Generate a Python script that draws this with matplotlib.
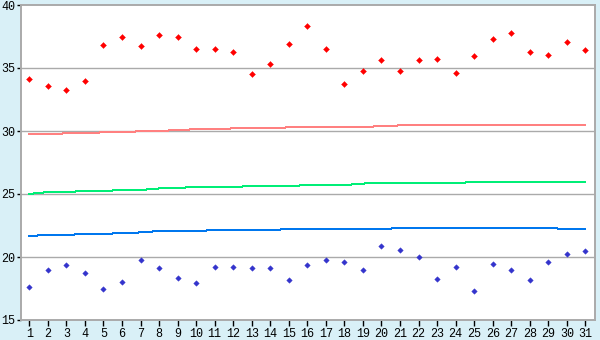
import matplotlib
matplotlib.use("Agg")
import matplotlib.pyplot as plt

days = list(range(1, 32))

max_temp = [34.1, 33.55, 33.25, 33.95, 36.8, 37.45, 36.75, 37.6, 37.45, 36.5,
            36.5, 36.25, 34.5, 35.3, 36.9, 38.3, 36.5, 33.7, 34.75, 35.6,
            34.75, 35.6, 35.7, 34.6, 35.95, 37.3, 37.75, 36.25, 36.0, 37.1, 36.4]

min_temp = [17.6, 18.95, 19.35, 18.75, 17.45, 18.0, 19.75, 19.15, 18.35, 17.95,
            19.2, 19.2, 19.15, 19.15, 18.15, 19.35, 19.75, 19.6, 18.95, 20.85,
            20.55, 20.0, 18.25, 19.2, 17.3, 19.45, 18.95, 18.15, 19.6, 20.25, 20.5]

normal_max = [29.74, 29.74, 29.82, 29.82, 29.90, 29.90, 29.98, 29.98, 30.10, 30.13,
              30.13, 30.21, 30.21, 30.21, 30.29, 30.29, 30.29, 30.29, 30.29, 30.41,
              30.44, 30.44, 30.44, 30.44, 30.44, 30.44, 30.44, 30.44, 30.44, 30.44, 30.44]

normal_mean = [25.00, 25.16, 25.16, 25.24, 25.24, 25.32, 25.32, 25.44, 25.48, 25.56,
               25.56, 25.56, 25.63, 25.63, 25.63, 25.71, 25.71, 25.71, 25.83, 25.87,
               25.87, 25.87, 25.87, 25.87, 25.95, 25.95, 25.95, 25.95, 25.95, 25.95, 25.95]

normal_min = [21.67, 21.75, 21.75, 21.83, 21.83, 21.90, 21.95, 22.06, 22.06, 22.06,
              22.14, 22.14, 22.14, 22.14, 22.22, 22.22, 22.22, 22.22, 22.22, 22.22,
              22.30, 22.30, 22.30, 22.30, 22.30, 22.30, 22.30, 22.30, 22.30, 22.22, 22.22]

y_ticks = [15, 20, 25, 30, 35, 40]

fig = plt.figure(figsize=(6, 3.4), dpi=100)
fig.patch.set_facecolor("#d9f0f7")
ax = fig.add_axes([20.7 / 600, 20 / 340, (595 - 20.7) / 600, 315 / 340])
ax.set_facecolor("white")

for y in y_ticks[1:-1]:
    ax.axhline(y, color="#aaaaaa", lw=1.0, zorder=1)

ax.plot(days, normal_max, color="#ff8080", lw=0.72, antialiased=False, zorder=2)
ax.plot(days, normal_mean, color="#00ee77", lw=0.72, antialiased=False, zorder=2)
ax.plot(days, normal_min, color="#0077ee", lw=0.72, antialiased=False, zorder=2)

ax.plot(days, max_temp, ls="none", marker="D", ms=3.0, color="#ff0000",
        mec="#ff0000", mew=0.3, zorder=3)
ax.plot(days, min_temp, ls="none", marker="D", ms=2.8, color="#3333cc",
        mec="#3333cc", mew=0.3, zorder=3)

ax.set_xlim(0.535, 31.52)
ax.set_ylim(15, 40)
ax.set_xticks(days)
ax.set_xticklabels([str(d) for d in days])
ax.set_yticks(y_ticks)
ax.set_yticklabels([str(v) for v in y_ticks])

for s in ax.spines.values():
    s.set_color("#aaaaaa")
    s.set_linewidth(1.4)

ax.tick_params(axis="x", length=4, width=1, color="black", pad=2,
               labelsize=8.5, labelcolor="black")
ax.tick_params(axis="y", length=3, width=1, color="black", pad=1,
               labelsize=8.5, labelcolor="black")
for lab in ax.get_xticklabels() + ax.get_yticklabels():
    lab.set_family("Liberation Mono")

fig.savefig("out.png", dpi=100, facecolor=fig.get_facecolor())
